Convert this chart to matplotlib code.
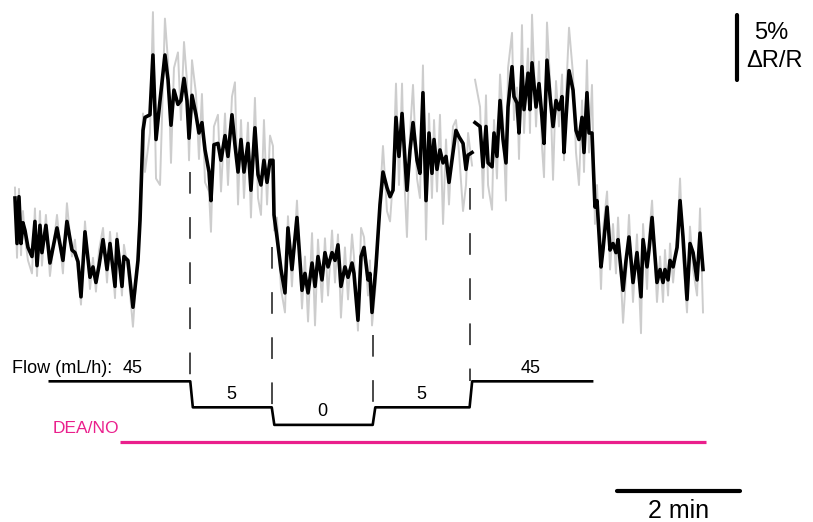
import numpy as np
import matplotlib
matplotlib.use("Agg")
import matplotlib.pyplot as plt

plt.rcParams["font.family"] = ["Liberation Sans", "DejaVu Sans"]

# reflectance trace: time (s), smoothed dR/R (%), raw dR/R (%)
time_s = [
    0.0, 2.0, 3.9, 5.9, 7.8, 9.8, 12.7, 16.6, 19.5, 21.5,
    24.4, 26.3, 30.2, 34.1, 41.0, 46.8, 50.7, 55.6, 58.5, 61.5,
    64.4, 68.3, 73.2, 76.1, 79.0, 82.0, 85.9, 89.8, 92.7, 97.6,
    99.5, 104.4, 106.3, 110.2, 115.1, 120.0, 122.0, 123.9, 124.9, 126.8,
    131.7, 134.6, 137.6, 141.5, 146.3, 149.3, 152.2, 155.1, 159.0, 161.9,
    164.9, 167.8, 169.8, 172.7, 176.6, 179.5, 182.4, 185.4, 189.3, 191.2,
    194.1, 198.0, 201.0, 204.9, 207.8, 211.7, 214.6, 217.6, 220.5, 223.4,
    227.3, 230.2, 234.1, 237.1, 240.0, 242.9, 245.9, 248.8, 251.7, 252.7,
    255.6, 259.5, 263.4, 266.3, 270.2, 275.1, 280.0, 282.9, 285.9, 289.8,
    292.7, 295.6, 299.5, 302.4, 305.4, 309.3, 312.2, 315.1, 318.0, 321.9,
    324.9, 328.8, 330.7, 334.6, 337.6, 340.5, 344.4, 346.3, 348.3, 352.2,
    356.1, 359.0, 362.9, 365.9, 368.8, 371.7, 374.6, 377.6, 379.5, 382.4,
    385.4, 388.3, 392.2, 395.1, 398.0, 401.0, 403.9, 406.8, 408.8, 411.7,
    414.6, 417.6, 420.5, 423.4, 427.3, 430.2, 433.2, 437.1, 440.0, 442.0,
    445.9, 447.3, 448.8, 453.7, 456.6, 459.5, 461.5, 465.4, 467.3, 470.2,
    473.2, 476.1, 479.0, 481.0, 484.9, 486.8, 489.8, 491.7, 494.6, 496.6,
    500.5, 502.4, 504.4, 508.3, 511.2, 514.1, 516.1, 519.0, 522.0, 524.9,
    527.8, 530.7, 533.7, 535.6, 537.6, 540.5, 544.4, 547.3, 550.2, 553.2,
    555.1, 558.0, 560.0, 562.9, 565.8, 567.8, 571.7, 573.6, 577.6, 580.5,
    583.4, 586.3, 588.3, 593.2, 596.1, 599.0, 602.9, 606.8, 610.7, 612.7,
    616.6, 618.5, 621.5, 626.3, 629.3, 632.2, 634.1, 637.1, 639.0, 642.0,
    645.9, 648.8, 651.7, 655.6, 658.5, 661.5, 665.4, 668.3, 671.2,
]
drr = [
    4.0, 0.5, 4.1, 0.5, 2.1, 1.5, 0.2, -0.5, 2.2, -1.2,
    1.9, -0.2, 1.9, -1.0, 1.7, -0.8, 2.2, 0.0, -0.2, -0.9,
    -3.6, 1.4, -2.1, -1.3, -2.5, -1.2, 0.8, -1.5, 0.5, -2.8,
    0.8, -2.8, -0.5, -0.8, -4.4, -0.8, 2.3, 6.9, 9.2, 10.2,
    10.4, 15.0, 8.5, 11.5, 15.0, 13.1, 9.6, 12.3, 11.2, 11.5,
    13.2, 11.5, 8.6, 11.9, 10.4, 9.0, 9.8, 7.7, 6.0, 3.8,
    8.1, 8.2, 6.9, 8.8, 7.2, 10.4, 8.1, 6.0, 8.5, 6.0,
    8.2, 4.6, 9.4, 5.8, 5.0, 6.9, 5.2, 6.9, 6.9, 2.7,
    1.0, -1.5, -3.3, 1.7, -1.5, 2.5, -3.1, -1.8, -3.3, -1.0,
    -2.8, -0.5, -2.3, -0.2, -1.3, -0.2, -0.8, 0.4, -2.8, -1.3,
    -2.1, -1.0, -1.8, -5.4, -0.5, 0.2, -2.3, -1.8, -4.8, -1.2,
    3.5, 6.0, 4.8, 4.1, 4.6, 10.2, 7.2, 10.5, 8.2, 4.6,
    7.7, 9.8, 6.9, 5.9, 12.1, 3.8, 9.0, 5.9, 8.5, 6.2,
    7.7, 6.7, 7.2, 5.2, 7.5, 9.2, 8.7, 8.2, 6.2, 7.3,
    7.5, np.nan, 9.8, 9.5, 6.4, 9.5, 6.7, 6.4, 9.0, 7.2,
    11.5, 8.5, 6.7, 11.0, 14.1, 11.8, 11.3, 9.0, 14.1, 10.8,
    13.6, 10.8, 14.4, 11.0, 12.8, 10.2, 8.2, 14.6, 11.8, 9.5,
    11.5, 10.8, 11.8, 7.5, 10.2, 13.8, 12.3, 9.2, 8.5, 10.2,
    7.5, 12.1, 9.0, 9.0, 3.3, 3.8, -1.3, 0.0, 3.3, 0.0,
    0.5, -0.2, 0.8, -3.1, -0.8, 1.0, -2.5, -0.2, -3.6, 0.8,
    -1.3, 0.0, 2.5, -2.5, -1.5, -2.5, -1.5, -2.3, -0.8, -1.3,
    0.2, 3.8, 1.0, -3.8, 0.5, -0.2, -2.3, 1.3, -1.5,
]
drr_raw = [
    4.8, -0.6, 4.7, -0.4, 3.0, 0.9, -0.8, -1.8, 3.2, -2.0,
    3.0, -1.2, 2.7, -2.0, 2.7, -1.8, 3.6, -0.5, 0.8, -1.8,
    -4.2, 2.2, -3.0, -0.6, -3.2, 0.0, 1.7, -2.5, 1.4, -3.7,
    1.3, -3.5, 0.4, -1.5, -5.9, -0.2, 3.0, 7.5, 10.5, 6.0,
    9.0, 18.3, 5.5, 5.0, 17.8, 14.5, 6.7, 14.0, 15.2, 10.0,
    16.0, 13.0, 6.9, 14.6, 12.0, 7.0, 12.0, 5.2, 4.5, 1.4,
    9.5, 10.4, 4.5, 10.5, 5.0, 11.8, 12.9, 3.5, 10.0, 4.0,
    9.8, 2.5, 11.7, 4.0, 2.7, 10.0, 3.5, 8.8, 8.0, 1.5,
    2.5, -3.0, -4.8, 2.6, -2.8, 3.8, -4.5, -0.5, -5.5, 1.3,
    -5.8, 0.8, -4.0, 0.9, -3.5, 1.5, -2.5, 1.2, -5.2, 0.2,
    -3.8, 1.2, -0.5, -6.2, 1.7, 1.0, -3.5, -0.8, -5.8, -2.5,
    4.0, 8.0, 3.0, 2.2, 5.5, 12.8, 5.0, 12.8, 6.0, 1.0,
    9.0, 12.7, 5.5, 4.0, 14.2, 0.8, 10.5, 4.0, 10.0, 4.5,
    10.4, 2.0, 8.5, 3.5, 9.5, 10.0, 7.5, 3.0, 5.0, 9.0,
    6.5, np.nan, 13.1, 11.0, 4.0, 11.9, 5.0, 3.1, 10.0, 5.5,
    13.5, 10.0, 3.8, 14.0, 16.7, 10.0, 12.5, 7.0, 17.3, 9.0,
    15.5, 9.0, 18.1, 9.5, 14.5, 8.0, 5.6, 17.5, 13.0, 5.4,
    13.0, 9.5, 13.5, 6.9, 12.0, 17.1, 13.5, 7.5, 5.0, 11.5,
    6.0, 14.6, 7.5, 12.7, 2.0, 5.0, -3.0, 1.5, 4.5, -1.5,
    2.0, -1.8, 2.5, -5.6, -2.0, 2.7, -4.0, 1.2, -6.4, 2.0,
    -3.0, 1.0, 3.8, -4.0, -0.5, -4.0, 0.0, -3.5, 0.5, -2.5,
    1.0, 5.5, -0.5, -4.8, 1.8, -1.5, -3.5, 3.2, -4.8,
]

# perfusion protocol
flow_rates = [45, 5, 0, 5, 45]
flow_edges_s = [34, 171, 250.5, 349, 443.5, 563]
flow_labels = ["45", "5", "0", "5", "45"]
dea_start_s, dea_end_s = 102, 674

# schematic levels of the flow trace, below the signal
flow_level = {45: -10.1, 5: -12.1, 0: -13.45}
dash_top = [6.0, 0.2, -6.5, 4.8]
ramp = 2.5
pink = "#ea1f8c"

fig = plt.figure(figsize=(8.13, 5.22), dpi=100)
ax = fig.add_axes([0, 0, 1, 1])
ax.set_xlim(-14.6, 778.5)
ax.set_ylim(-20.92, 19.23)
ax.axis("off")

ax.plot(time_s, drr_raw, color="#cdcdcd", linewidth=1.4, zorder=1)
ax.plot(time_s, drr, color="black", linewidth=2.6, zorder=2,
        solid_joinstyle="round")

# flow steps
fx, fy = [], []
for i, rate in enumerate(flow_rates):
    start = flow_edges_s[i] + (ramp if i > 0 else 0)
    fx += [start, flow_edges_s[i + 1]]
    fy += [flow_level[rate], flow_level[rate]]
ax.plot(fx, fy, color="black", linewidth=1.9, solid_joinstyle="round")

# dashed markers at each flow change
for t, top, i in zip(flow_edges_s[1:-1], dash_top, range(1, 5)):
    bottom = max(flow_level[flow_rates[i - 1]], flow_level[flow_rates[i]])
    ax.plot([t, t], [top, bottom], color="#3a3a3a", linewidth=1.3,
            linestyle=(0, (12, 13)), zorder=0)

# flow labels
ax.text(-2.9, flow_level[45] + 1.0, "Flow (mL/h):", fontsize=13,
        ha="left", va="center")
ax.text(114.5, flow_level[45] + 1.0, flow_labels[0], fontsize=13,
        ha="center", va="center")
for i in range(1, 5):
    mid = (flow_edges_s[i] + flow_edges_s[i + 1]) / 2
    ax.text(mid, flow_level[flow_rates[i]] + 1.0, flow_labels[i],
            fontsize=13, ha="center", va="center")

# DEA/NO application
ax.plot([dea_start_s, dea_end_s], [-14.75, -14.75], color=pink,
        linewidth=2.3, solid_capstyle="butt")
ax.text(37.0, -13.7, "DEA/NO", color=pink, fontsize=12.5,
        ha="left", va="center")

# scale bars
ax.plot([587.3, 707.3], [-18.5, -18.5], color="black", linewidth=3.0,
        solid_capstyle="round")
ax.text(647.3, -20.1, "2 min", fontsize=18, ha="center", va="center")
ax.plot([704.4, 704.4], [18.1, 13.1], color="black", linewidth=3.0,
        solid_capstyle="round")
ax.text(721.5, 16.7, "5%", fontsize=17, ha="left", va="center")
ax.text(713.5, 14.5, "ΔR/R", fontsize=17, ha="left", va="center")

fig.savefig("out.png", dpi=100)
plt.close(fig)
